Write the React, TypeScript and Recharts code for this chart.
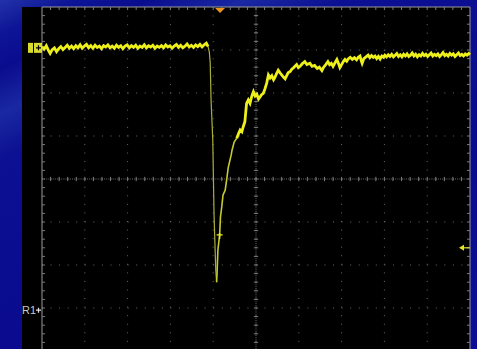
import React from "react";
import {
  LineChart,
  Line,
  XAxis,
  YAxis,
  CartesianGrid,
  ReferenceLine,
  ReferenceDot,
} from "recharts";

// trace samples, [time div, volts div]
const preTrigger: [number, number][] = [
  [0.0, 3.08], [0.05, 3.02], [0.1, 3.1], [0.15, 2.99], [0.19, 2.92], [0.24, 3.01],
  [0.29, 3.05], [0.34, 2.96], [0.39, 3.03], [0.44, 3.08], [0.49, 3.01], [0.54, 3.06],
  [0.59, 3.11], [0.64, 3.04], [0.69, 3.09], [0.74, 3.03], [0.79, 3.1], [0.84, 3.05],
  [0.89, 3.12], [0.94, 3.04], [0.99, 3.09], [1.04, 3.13], [1.09, 3.05], [1.14, 3.1],
  [1.19, 3.04], [1.24, 3.11], [1.29, 3.06], [1.34, 3.09], [1.39, 3.03], [1.44, 3.1],
  [1.49, 3.07], [1.54, 3.12], [1.59, 3.05], [1.64, 3.09], [1.69, 3.04], [1.74, 3.11],
  [1.79, 3.06], [1.84, 3.1], [1.89, 3.03], [1.94, 3.09], [1.99, 3.12], [2.04, 3.05],
  [2.09, 3.1], [2.14, 3.06], [2.19, 3.11], [2.24, 3.04], [2.29, 3.09], [2.34, 3.06],
  [2.39, 3.12], [2.44, 3.05], [2.49, 3.1], [2.54, 3.07], [2.59, 3.11], [2.64, 3.04],
  [2.69, 3.09], [2.74, 3.06], [2.79, 3.1], [2.84, 3.05], [2.89, 3.12], [2.94, 3.07],
  [2.99, 3.1], [3.04, 3.04], [3.09, 3.09], [3.14, 3.13], [3.19, 3.06], [3.24, 3.11],
  [3.29, 3.05], [3.34, 3.09], [3.39, 3.14], [3.44, 3.07], [3.49, 3.11], [3.54, 3.06],
  [3.59, 3.12], [3.64, 3.08], [3.69, 3.13], [3.74, 3.07], [3.79, 3.12], [3.84, 3.16],
  [3.88, 3.08],
];

const fallEdge: [number, number][] = [
  [3.88, 3.08], [3.91, 2.95], [3.93, 2.7], [3.95, 1.84], [3.99, 0.91],
  [4.02, -0.84], [4.06, -2.12], [4.08, -2.4],
];

const riseEdge: [number, number][] = [
  [4.08, -2.4], [4.09, -2.19], [4.11, -1.65], [4.15, -1.3], [4.17, -0.88],
  [4.2, -0.65], [4.23, -0.37], [4.28, -0.26], [4.32, 0.02], [4.35, 0.26],
  [4.42, 0.56], [4.44, 0.67], [4.49, 0.86], [4.55, 0.95],
];

const recovery: [number, number][] = [
  [4.55, 0.95], [4.59, 1.05], [4.63, 1.14], [4.67, 1.1], [4.7, 1.21], [4.74, 1.33],
  [4.76, 1.55], [4.78, 1.76], [4.82, 1.84], [4.86, 1.76], [4.9, 1.92], [4.94, 2.03],
  [4.98, 1.93], [5.02, 1.97], [5.06, 1.86], [5.09, 1.9], [5.13, 1.96], [5.17, 1.99],
  [5.21, 2.1], [5.25, 2.23], [5.29, 2.42], [5.33, 2.35], [5.37, 2.4], [5.41, 2.31],
  [5.44, 2.36], [5.48, 2.45], [5.52, 2.53], [5.56, 2.47], [5.6, 2.42], [5.64, 2.37],
  [5.68, 2.33], [5.72, 2.41], [5.75, 2.47], [5.8, 2.5], [5.84, 2.56], [5.87, 2.58],
  [5.91, 2.62], [5.95, 2.66], [5.99, 2.59], [6.03, 2.62], [6.08, 2.68], [6.14, 2.73],
  [6.19, 2.66], [6.26, 2.69], [6.31, 2.62], [6.37, 2.64], [6.43, 2.57], [6.48, 2.6],
  [6.54, 2.52], [6.58, 2.6], [6.63, 2.66], [6.68, 2.73], [6.72, 2.66], [6.76, 2.69],
  [6.8, 2.62], [6.85, 2.71], [6.89, 2.78], [6.93, 2.68], [6.96, 2.59], [7.0, 2.66],
  [7.04, 2.73], [7.08, 2.78], [7.12, 2.74], [7.16, 2.8], [7.2, 2.83], [7.25, 2.78],
  [7.3, 2.82], [7.35, 2.77], [7.39, 2.83], [7.43, 2.86], [7.46, 2.75], [7.48, 2.69],
  [7.52, 2.8], [7.57, 2.84], [7.62, 2.88], [7.66, 2.82], [7.7, 2.87], [7.74, 2.83],
  [7.78, 2.86], [7.82, 2.8], [7.86, 2.85], [7.9, 2.79], [7.94, 2.86], [7.98, 2.83],
  [8.01, 2.88], [8.05, 2.84], [8.09, 2.89], [8.13, 2.85], [8.17, 2.9], [8.21, 2.84],
  [8.25, 2.88], [8.29, 2.92], [8.33, 2.85], [8.37, 2.89], [8.41, 2.84], [8.45, 2.9],
  [8.49, 2.86], [8.53, 2.91], [8.57, 2.85], [8.61, 2.88], [8.65, 2.93], [8.69, 2.86],
  [8.73, 2.9], [8.77, 2.84], [8.81, 2.89], [8.85, 2.86], [8.89, 2.92], [8.93, 2.87],
  [8.97, 2.9], [9.01, 2.85], [9.05, 2.89], [9.09, 2.93], [9.13, 2.86], [9.17, 2.9],
  [9.21, 2.87], [9.25, 2.91], [9.29, 2.85], [9.33, 2.89], [9.37, 2.94], [9.41, 2.87],
  [9.45, 2.9], [9.49, 2.86], [9.53, 2.92], [9.57, 2.88], [9.61, 2.91], [9.65, 2.85],
  [9.69, 2.89], [9.73, 2.93], [9.77, 2.87], [9.81, 2.9], [9.85, 2.86], [9.89, 2.91],
  [9.93, 2.88], [9.97, 2.92], [10.0, 2.89],
];

// graticule: 10 x 8 divisions, 5 minor ticks each
const majorX = [1, 2, 3, 4, 5, 6, 7, 8, 9];
const majorY = [-3, -2, -1, 0, 1, 2, 3];
const minorX = Array.from({ length: 49 }, (_, i) => +((i + 1) * 0.2).toFixed(1));
const minorY = Array.from({ length: 39 }, (_, i) => +(-3.8 + i * 0.2).toFixed(1));

const groundLevel = 3.05;
const refLevel = -3.05;
const triggerLevel = -1.6;
const triggerPos = 4.16;
const cursorMark: [number, number] = [4.15, -1.3];

const pts = (a: [number, number][]) => a.map(([t, v]) => ({ t, v }));

const YELLOW = "#eef01c";
const DIM = "#a9ae3a";
const GRID = "#6a6a6a";
const FRAME = "#9a9a9a";
const TICK = "#7c7c7c";

// short tick segment in data units
const seg = (x1: number, y1: number, x2: number, y2: number) => [
  { x: x1, y: y1 },
  { x: x2, y: y2 },
];

export default function App() {
  return (
    <div
      style={{
        position: "fixed",
        left: 0,
        top: 0,
        width: 477,
        height: 349,
        overflow: "hidden",
        background:
          "linear-gradient(155deg, #2233a8 0%, #0d1596 6%, #0a0c8e 12%, #1a28a2 20%, #0c1092 28%, #0a0b8e 60%, #0b0d96 100%)",
      }}
    >
      <div
        style={{
          position: "absolute",
          left: 22,
          top: 7,
          width: 448,
          height: 342,
          background: "#000",
        }}
      />
      <div style={{ position: "absolute", left: 0, top: 0 }}>
        <LineChart
          width={477}
          height={360}
          margin={{ top: 7, right: 7, bottom: 9, left: 42 }}
        >
          <XAxis type="number" dataKey="t" domain={[0, 10]} hide />
          <YAxis yAxisId="l" type="number" domain={[-4, 4]} hide />
          <CartesianGrid
            yAxisId="l"
            stroke={GRID}
            strokeDasharray="1 7.56"
            horizontalValues={majorY}
            verticalValues={majorX}
          />

          {/* frame */}
          <ReferenceLine yAxisId="l" x={0} stroke={FRAME} />
          <ReferenceLine yAxisId="l" x={10} stroke={FRAME} />
          <ReferenceLine yAxisId="l" y={4} stroke={FRAME} />
          {minorX.map((x) => (
            <ReferenceLine key={"tx" + x} yAxisId="l" segment={seg(x, 4, x, 3.93)} stroke={TICK} />
          ))}
          {minorY.map((y) => (
            <ReferenceLine key={"ly" + y} yAxisId="l" segment={seg(0, y, 0.07, y)} stroke={TICK} />
          ))}
          {minorY.map((y) => (
            <ReferenceLine key={"ry" + y} yAxisId="l" segment={seg(9.93, y, 10, y)} stroke={TICK} />
          ))}

          {/* center cross with minor ticks */}
          <ReferenceLine yAxisId="l" x={5} stroke={GRID} strokeDasharray="1 1.14" />
          <ReferenceLine yAxisId="l" y={0} stroke={GRID} strokeDasharray="1 1.14" />
          {minorX.map((x) => (
            <ReferenceLine key={"cx" + x} yAxisId="l" segment={seg(x, -0.05, x, 0.05)} stroke={TICK} />
          ))}
          {minorY.map((y) => (
            <ReferenceLine key={"cy" + y} yAxisId="l" segment={seg(4.95, y, 5.05, y)} stroke={TICK} />
          ))}

          <Line
            yAxisId="l"
            data={pts(preTrigger)}
            dataKey="v"
            stroke={YELLOW}
            strokeWidth={2.8}
            dot={false}
            isAnimationActive={false}
          />
          <Line
            yAxisId="l"
            data={pts(fallEdge)}
            dataKey="v"
            stroke={DIM}
            strokeWidth={1.2}
            dot={false}
            isAnimationActive={false}
          />
          <Line
            yAxisId="l"
            data={pts(riseEdge)}
            dataKey="v"
            stroke="#c4ca30"
            strokeWidth={1.6}
            dot={false}
            isAnimationActive={false}
          />
          <Line
            yAxisId="l"
            data={pts(recovery)}
            dataKey="v"
            stroke={YELLOW}
            strokeWidth={2.8}
            dot={false}
            isAnimationActive={false}
          />

          {/* cursor cross on the rising edge */}
          <ReferenceDot
            yAxisId="l"
            x={cursorMark[0]}
            y={cursorMark[1]}
            ifOverflow="visible"
            shape={(p: any) => (
              <path
                d={`M${p.cx - 3},${p.cy}H${p.cx + 3}M${p.cx},${p.cy - 2}V${p.cy + 4}`}
                stroke={YELLOW}
                strokeWidth={1.4}
              />
            )}
          />

          {/* channel 1 ground marker */}
          <ReferenceDot
            yAxisId="l"
            x={0}
            y={groundLevel}
            ifOverflow="visible"
            shape={(p: any) => (
              <g>
                <rect x={p.cx - 14} y={p.cy - 5} width={5} height={10} fill="#d8dc30" />
                <rect x={p.cx - 8} y={p.cy - 5} width={8} height={10} fill="#d8dc30" />
                <path
                  d={`M${p.cx - 6},${p.cy}H${p.cx - 1}M${p.cx - 3.5},${p.cy - 2.5}V${p.cy + 2.5}`}
                  stroke="#000"
                  strokeWidth={1.2}
                />
              </g>
            )}
          />

          {/* reference waveform marker */}
          <ReferenceDot
            yAxisId="l"
            x={0}
            y={refLevel}
            ifOverflow="visible"
            shape={(p: any) => (
              <g>
                <text
                  x={p.cx - 6}
                  y={p.cy + 4}
                  textAnchor="end"
                  fontFamily="Liberation Sans, Arial, sans-serif"
                  fontSize={11}
                  fill="#c8c8c8"
                >
                  R1
                </text>
                <path
                  d={`M${p.cx - 6},${p.cy}H${p.cx - 1}M${p.cx - 3.5},${p.cy - 2.5}V${p.cy + 2.5}`}
                  stroke="#e0e0e0"
                  strokeWidth={1.2}
                />
              </g>
            )}
          />

          {/* trigger position */}
          <ReferenceDot
            yAxisId="l"
            x={triggerPos}
            y={4}
            ifOverflow="visible"
            shape={(p: any) => (
              <path
                d={`M${p.cx - 5},${p.cy + 1}L${p.cx + 5},${p.cy + 1}L${p.cx},${p.cy + 6}Z`}
                fill="#e8941e"
              />
            )}
          />

          {/* trigger level */}
          <ReferenceDot
            yAxisId="l"
            x={10}
            y={triggerLevel}
            ifOverflow="visible"
            shape={(p: any) => (
              <g>
                <path d={`M${p.cx - 7},${p.cy}H${p.cx}`} stroke="#e4e428" strokeWidth={1.2} />
                <path
                  d={`M${p.cx - 11},${p.cy}L${p.cx - 6},${p.cy - 3}L${p.cx - 6},${p.cy + 3}Z`}
                  fill="#e4e428"
                />
              </g>
            )}
          />
        </LineChart>
      </div>
    </div>
  );
}
